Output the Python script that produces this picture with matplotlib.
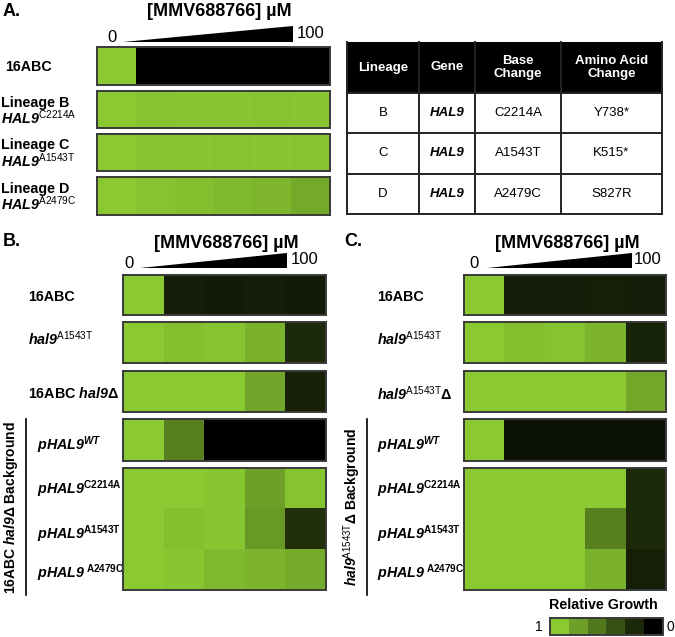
import numpy as np
import matplotlib
matplotlib.use("Agg")
import matplotlib.pyplot as plt
from matplotlib.colors import LinearSegmentedColormap
from matplotlib.patches import Polygon, Rectangle

W, H = 675, 637

plt.rcParams["font.family"] = ["Liberation Sans", "DejaVu Sans"]
plt.rcParams["mathtext.fontset"] = "custom"
plt.rcParams["mathtext.rm"] = "Liberation Sans"
plt.rcParams["mathtext.it"] = "Liberation Sans:italic"
plt.rcParams["mathtext.bf"] = "Liberation Sans:bold"
plt.rcParams["mathtext.bfit"] = "Liberation Sans:italic:bold"

# relative growth; columns go 0 -> 100 uM MMV688766
a_labels = ["16ABC", "Lineage B", "Lineage C", "Lineage D"]
a_alleles = [None, "C2214A", "A1543T", "A2479C"]
a_growth = [
    [1.00, 0.00, 0.00, 0.00, 0.00, 0.00],
    [1.00, 0.97, 0.98, 0.98, 0.97, 0.98],
    [1.00, 0.97, 0.98, 0.97, 0.98, 0.97],
    [1.00, 0.97, 0.95, 0.92, 0.91, 0.84],
]

b_labels = [r"16ABC", r"$\mathbfit{hal9}^{\mathrm{A1543T}}$", r"16ABC $\mathbfit{hal9}$Δ",
            r"$\mathbfit{pHAL9}^{\mathbfit{WT}}$", r"$\mathbfit{pHAL9}^{\mathbf{C2214A}}$",
            r"$\mathbfit{pHAL9}^{\mathbf{A1543T}}$", r"$\mathbfit{pHAL9}^{\ \mathbf{A2479C}}$"]
b_growth = [
    [1.00, 0.15, 0.14, 0.15, 0.14],
    [1.00, 0.95, 0.97, 0.88, 0.21],
    [1.00, 1.00, 1.00, 0.82, 0.17],
    [1.00, 0.64, 0.00, 0.00, 0.00],
    [1.00, 1.00, 0.98, 0.80, 0.97],
    [1.00, 0.95, 0.98, 0.76, 0.24],
    [1.00, 0.98, 0.92, 0.90, 0.85],
]

c_labels = [r"16ABC", r"$\mathbfit{hal9}^{\mathrm{A1543T}}$", r"$\mathbfit{hal9}^{\mathrm{A1543T}}$Δ",
            r"$\mathbfit{pHAL9}^{\mathbfit{WT}}$", r"$\mathbfit{pHAL9}^{\mathbf{C2214A}}$",
            r"$\mathbfit{pHAL9}^{\mathbf{A1543T}}$", r"$\mathbfit{pHAL9}^{\ \mathbf{A2479C}}$"]
c_growth = [
    [1.00, 0.15, 0.15, 0.16, 0.15],
    [1.00, 0.95, 0.97, 0.90, 0.18],
    [1.00, 1.00, 1.00, 1.00, 0.83],
    [1.00, 0.09, 0.09, 0.09, 0.09],
    [1.00, 1.00, 1.00, 1.00, 0.21],
    [1.00, 1.00, 1.00, 0.64, 0.21],
    [1.00, 1.00, 1.00, 0.88, 0.16],
]

tbl_header = ["Lineage", "Gene", "Base\nChange", "Amino Acid\nChange"]
tbl_lineage = ["B", "C", "D"]
tbl_gene = ["HAL9", "HAL9", "HAL9"]
tbl_base = ["C2214A", "A1543T", "A2479C"]
tbl_aa = ["Y738*", "K515*", "S827R"]

legend_steps = [1.0, 0.8, 0.6, 0.4, 0.2, 0.0]

cmap = LinearSegmentedColormap.from_list("growth", ["#000000", "#8AC932"])

fig = plt.figure(figsize=(W / 100, H / 100), dpi=100)
ov = fig.add_axes([0, 0, 1, 1])
ov.set_xlim(0, W)
ov.set_ylim(H, 0)
ov.axis("off")


def heat(x0, x1, y0, y1, data):
    ax = fig.add_axes([x0 / W, 1 - y1 / H, (x1 - x0) / W, (y1 - y0) / H])
    ax.imshow(np.array(data, ndmin=2), cmap=cmap, vmin=0, vmax=1,
              aspect="auto", interpolation="nearest")
    ax.set_xticks([])
    ax.set_yticks([])
    for s in ax.spines.values():
        s.set_color("#3a3a3a")
        s.set_linewidth(1.4)
    return ax


def header(xc, y_title, x0_lbl, x100_lbl, wx0, wx1, wyb, wyt):
    ov.text(xc, y_title, "[MMV688766] µM", ha="center", va="center",
            fontsize=13, fontweight="bold")
    ov.text(x0_lbl, wyb - 5, "0", ha="center", va="center", fontsize=12)
    ov.text(x100_lbl, wyb - 8, "100", ha="left", va="center", fontsize=12)
    ov.add_patch(Polygon([(wx0, wyb), (wx1, wyb), (wx1, wyt)], closed=True,
                         color="black", lw=0))


# ---- panel A
ov.text(3, 11, "A.", fontsize=13, fontweight="bold", va="center")
header(219, 12, 112, 297, 123, 293, 42, 26)
a_rows = [(47, 85), (91, 128), (134, 171), (177, 215)]
for (y0, y1), vals, lab, allele in zip(a_rows, a_growth, a_labels, a_alleles):
    heat(97, 330, y0, y1, [vals])
    if allele is None:
        ov.text(5, (y0 + y1) / 2 + 1, lab, fontsize=10.3, fontweight="bold", va="center")
    else:
        ov.text(1, (y0 + y1) / 2 - 7, lab, fontsize=10.3, fontweight="bold", va="center")
        ov.text(1, (y0 + y1) / 2 + 8, r"$\mathbfit{HAL9}^{\mathrm{%s}}$" % allele,
                fontsize=10.3, va="center")

# ---- table
xs = [347, 419, 475, 561, 662]
ys = [42, 93, 133, 174, 214]
ov.add_patch(Rectangle((xs[0], ys[0]), xs[-1] - xs[0], ys[1] - ys[0], color="black", lw=0))
for i, h in enumerate(tbl_header):
    ov.text((xs[i] + xs[i + 1]) / 2, (ys[0] + ys[1]) / 2, h, color="white",
            ha="center", va="center", fontsize=9.5, fontweight="bold", linespacing=1.1)
for r in range(3):
    yc = (ys[r + 1] + ys[r + 2]) / 2
    cells = [tbl_lineage[r], tbl_gene[r], tbl_base[r], tbl_aa[r]]
    for i, s in enumerate(cells):
        kw = dict(fontweight="bold", fontstyle="italic") if i == 1 else {}
        ov.text((xs[i] + xs[i + 1]) / 2, yc, s, ha="center", va="center", fontsize=9.5, **kw)
for y in ys[1:]:
    ov.plot([xs[0], xs[-1]], [y, y], color="#222222", lw=1.4)
for x in xs:
    ov.plot([x, x], [ys[0], ys[-1]], color="#222222", lw=1.4)

# ---- panels B and C
row_groups = [[0], [1], [2], [3], [4, 5, 6]]
group_y = [(275, 315), (322, 363), (371, 412), (419, 461), (468, 590)]
label_y = [297, 339, 394, 445, 489, 534, 573]


def panel(letter, lx, heat_x, growth, labels, label_x, sep_x, bg_label, bg_x, hdr):
    ov.text(lx, 241, letter, fontsize=13, fontweight="bold", va="center")
    header(*hdr)
    for grp, (y0, y1) in zip(row_groups, group_y):
        heat(heat_x[0], heat_x[1], y0, y1, [growth[i] for i in grp])
    for i, (lab, y) in enumerate(zip(labels, label_y)):
        x = label_x[0] if i < 3 else label_x[1]
        ov.text(x, y, lab, fontsize=10.3, fontweight="bold", va="center")
    ov.plot([sep_x, sep_x], [419, 595], color="black", lw=1.2)
    ov.text(bg_x, 507, bg_label, rotation=90, fontsize=10, fontweight="bold",
            ha="center", va="center")


panel("B.", 3, (123, 326), b_growth, b_labels, (28, 37), 26,
      r"16ABC $\mathbfit{hal9}$Δ Background", 11,
      (226, 243, 129, 291, 140, 287, 268, 253))
panel("C.", 344, (464, 666), c_growth, c_labels, (377, 377), 367,
      r"$\mathbfit{hal9}^{\mathrm{A1543T}}$Δ Background", 352,
      (567, 243, 474, 634, 487, 632, 268, 253))

# ---- legend
ov.text(603, 605, "Relative Growth", ha="center", va="center", fontsize=10.3, fontweight="bold")
lg = heat(550, 663, 618, 635, [legend_steps])
ov.text(539, 627, "1", ha="center", va="center", fontsize=10)
ov.text(670, 627, "0", ha="center", va="center", fontsize=10)

fig.savefig("out.png", dpi=100)
